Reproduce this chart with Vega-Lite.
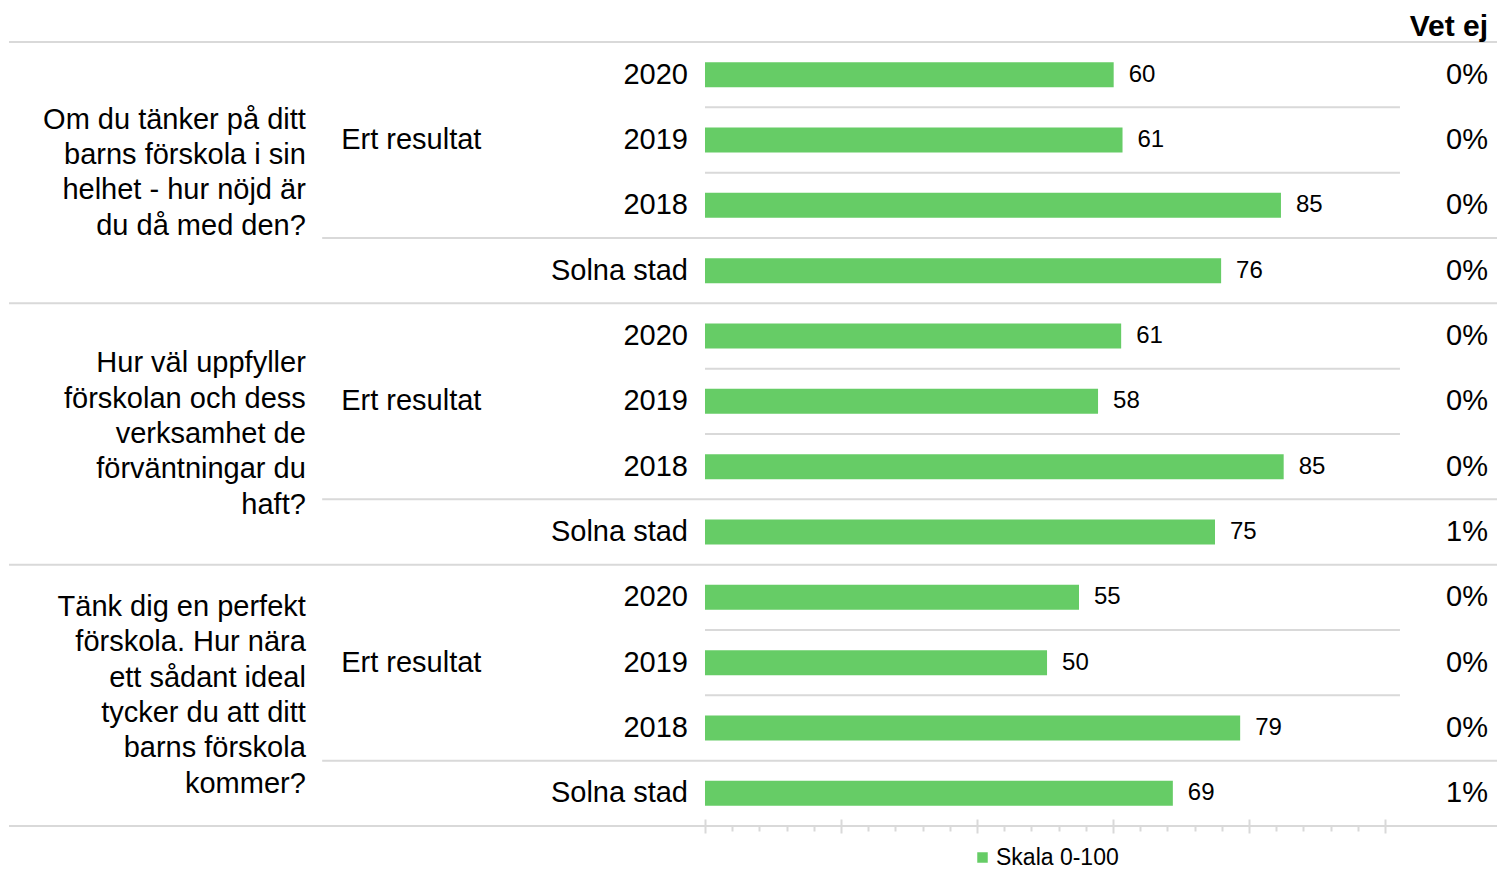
{
  "$schema": "https://vega.github.io/schema/vega-lite/v6.json",
  "autosize": "none",
  "width": 1497,
  "height": 784,
  "padding": {"top": 42, "bottom": 43, "left": 0, "right": 0},
  "background": "white",
  "config": {"view": {"stroke": null}, "font": "Liberation Sans"},
  "data": {"values": [
    {"key": "1-2020", "question": "Om du tänker på ditt\nbarns förskola i sin\nhelhet - hur nöjd är\ndu då med den?", "group": "Ert resultat", "label": "2020", "value": 60.1, "vetej": 0},
    {"key": "1-2019", "question": "Om du tänker på ditt\nbarns förskola i sin\nhelhet - hur nöjd är\ndu då med den?", "group": "Ert resultat", "label": "2019", "value": 61.4, "vetej": 0},
    {"key": "1-2018", "question": "Om du tänker på ditt\nbarns förskola i sin\nhelhet - hur nöjd är\ndu då med den?", "group": "Ert resultat", "label": "2018", "value": 84.7, "vetej": 0},
    {"key": "1-Solna", "question": "Om du tänker på ditt\nbarns förskola i sin\nhelhet - hur nöjd är\ndu då med den?", "group": "Solna stad", "label": "Solna stad", "value": 75.9, "vetej": 0},
    {"key": "2-2020", "question": "Hur väl uppfyller\nförskolan och dess\nverksamhet de\nförväntningar du\nhaft?", "group": "Ert resultat", "label": "2020", "value": 61.2, "vetej": 0},
    {"key": "2-2019", "question": "Hur väl uppfyller\nförskolan och dess\nverksamhet de\nförväntningar du\nhaft?", "group": "Ert resultat", "label": "2019", "value": 57.8, "vetej": 0},
    {"key": "2-2018", "question": "Hur väl uppfyller\nförskolan och dess\nverksamhet de\nförväntningar du\nhaft?", "group": "Ert resultat", "label": "2018", "value": 85.1, "vetej": 0},
    {"key": "2-Solna", "question": "Hur väl uppfyller\nförskolan och dess\nverksamhet de\nförväntningar du\nhaft?", "group": "Solna stad", "label": "Solna stad", "value": 75.0, "vetej": 0.01},
    {"key": "3-2020", "question": "Tänk dig en perfekt\nförskola. Hur nära\nett sådant ideal\ntycker du att ditt\nbarns förskola\nkommer?", "group": "Ert resultat", "label": "2020", "value": 55.0, "vetej": 0},
    {"key": "3-2019", "question": "Tänk dig en perfekt\nförskola. Hur nära\nett sådant ideal\ntycker du att ditt\nbarns förskola\nkommer?", "group": "Ert resultat", "label": "2019", "value": 50.3, "vetej": 0},
    {"key": "3-2018", "question": "Tänk dig en perfekt\nförskola. Hur nära\nett sådant ideal\ntycker du att ditt\nbarns förskola\nkommer?", "group": "Ert resultat", "label": "2018", "value": 78.7, "vetej": 0},
    {"key": "3-Solna", "question": "Tänk dig en perfekt\nförskola. Hur nära\nett sådant ideal\ntycker du att ditt\nbarns förskola\nkommer?", "group": "Solna stad", "label": "Solna stad", "value": 68.8, "vetej": 0.01}
  ]},
  "resolve": {"axis": {"x": "independent"}},
  "encoding": {
    "y": {"field": "key", "type": "nominal", "sort": null, "scale": {"domain": ["1-2020", "1-2019", "1-2018", "1-Solna", "2-2020", "2-2019", "2-2018", "2-Solna", "3-2020", "3-2019", "3-2018", "3-Solna"], "paddingInner": 0, "paddingOuter": 0}, "axis": null}
  },
  "layer": [
    {
      "transform": [{"filter": "datum.key == '1-2020'"}],
      "mark": {"type": "rule", "color": "#d9d9d9", "strokeWidth": 2},
      "encoding": {
        "x": {"datum": -102.35, "type": "quantitative", "scale": {"domain": [-103.676, 116.47], "nice": false, "zero": false}, "axis": null},
        "x2": {"datum": 116.47},
        "y": {"field": "key", "type": "nominal", "sort": null, "bandPosition": 0}
      }
    },
    {
      "transform": [{"filter": "datum.label == '2020' || datum.label == '2019'"}],
      "mark": {"type": "rule", "color": "#d9d9d9", "strokeWidth": 2},
      "encoding": {
        "x": {"datum": 0, "type": "quantitative", "axis": null},
        "x2": {"datum": 102.2},
        "y": {"field": "key", "type": "nominal", "sort": null, "bandPosition": 1}
      }
    },
    {
      "transform": [{"filter": "datum.label == '2018'"}],
      "mark": {"type": "rule", "color": "#d9d9d9", "strokeWidth": 2},
      "encoding": {
        "x": {"datum": -56.3, "type": "quantitative", "axis": null},
        "x2": {"datum": 116.47},
        "y": {"field": "key", "type": "nominal", "sort": null, "bandPosition": 1}
      }
    },
    {
      "transform": [{"filter": "datum.label == 'Solna stad'"}],
      "mark": {"type": "rule", "color": "#d9d9d9", "strokeWidth": 2},
      "encoding": {
        "x": {"datum": -102.35, "type": "quantitative", "axis": null},
        "x2": {"datum": 116.47},
        "y": {"field": "key", "type": "nominal", "sort": null, "bandPosition": 1}
      }
    },
    {
      "mark": {"type": "bar", "size": 25},
      "encoding": {
        "x": {"field": "value", "type": "quantitative", "axis": {"orient": "bottom", "values": [0, 20, 40, 60, 80, 100], "labels": false, "domain": false, "grid": false, "ticks": true, "tickSize": 14, "tickColor": "#d9d9d9", "tickWidth": 2, "offset": -7, "title": null}},
        "color": {"datum": "Skala 0-100", "scale": {"range": ["#66CC66"]}, "legend": {"orient": "none", "legendX": 971, "legendY": 804, "title": null, "symbolType": "square", "symbolSize": 110, "symbolStrokeWidth": 0, "labelFontSize": 23, "labelFont": "Liberation Sans", "labelColor": "#000000", "padding": 0, "labelOffset": 2, "labelLimit": 300}}
      }
    },
    {
      "mark": {"type": "text", "align": "left", "baseline": "middle", "dx": 15, "fontSize": 24, "font": "Liberation Sans", "color": "#000000"},
      "encoding": {
        "x": {"field": "value", "type": "quantitative", "axis": {"orient": "bottom", "values": [4, 8, 12, 16, 24, 28, 32, 36, 44, 48, 52, 56, 64, 68, 72, 76, 84, 88, 92, 96], "labels": false, "domain": false, "grid": false, "ticks": true, "tickSize": 5, "tickColor": "#d9d9d9", "tickWidth": 2, "offset": 0, "title": null}},
        "text": {"field": "value", "type": "quantitative", "format": ".0f"}
      }
    },
    {
      "mark": {"type": "text", "align": "right", "baseline": "middle", "dx": -17, "fontSize": 29, "font": "Liberation Sans", "color": "#000000"},
      "encoding": {
        "x": {"datum": 0, "type": "quantitative", "axis": null},
        "text": {"field": "label", "type": "nominal"}
      }
    },
    {
      "transform": [{"filter": "datum.label == '2019'"}],
      "mark": {"type": "text", "align": "left", "baseline": "middle", "fontSize": 29, "font": "Liberation Sans", "color": "#000000"},
      "encoding": {
        "x": {"datum": -53.5, "type": "quantitative", "axis": null},
        "text": {"field": "group", "type": "nominal"}
      }
    },
    {
      "transform": [{"filter": "datum.key == '1-2019'"}],
      "mark": {"type": "text", "align": "right", "baseline": "middle", "fontSize": 29, "lineHeight": 35.3, "lineBreak": "\n", "font": "Liberation Sans", "color": "#000000"},
      "encoding": {
        "x": {"datum": -58.7, "type": "quantitative", "axis": null},
        "y": {"field": "key", "type": "nominal", "sort": null, "bandPosition": 0.19},
        "text": {"field": "question", "type": "nominal"}
      }
    },
    {
      "transform": [{"filter": "datum.key == '2-2020'"}],
      "mark": {"type": "text", "align": "right", "baseline": "middle", "fontSize": 29, "lineHeight": 35.3, "lineBreak": "\n", "font": "Liberation Sans", "color": "#000000"},
      "encoding": {
        "x": {"datum": -58.7, "type": "quantitative", "axis": null},
        "y": {"field": "key", "type": "nominal", "sort": null, "bandPosition": 0.92},
        "text": {"field": "question", "type": "nominal"}
      }
    },
    {
      "transform": [{"filter": "datum.key == '3-2020'"}],
      "mark": {"type": "text", "align": "right", "baseline": "middle", "fontSize": 29, "lineHeight": 35.3, "lineBreak": "\n", "font": "Liberation Sans", "color": "#000000"},
      "encoding": {
        "x": {"datum": -58.7, "type": "quantitative", "axis": null},
        "y": {"field": "key", "type": "nominal", "sort": null, "bandPosition": 0.65},
        "text": {"field": "question", "type": "nominal"}
      }
    },
    {
      "mark": {"type": "text", "align": "right", "baseline": "middle", "fontSize": 29, "font": "Liberation Sans", "color": "#000000"},
      "encoding": {
        "x": {"datum": 115.15, "type": "quantitative", "axis": null},
        "text": {"field": "vetej", "type": "quantitative", "format": ".0%"}
      }
    },
    {
      "transform": [{"filter": "datum.key == '1-2020'"}],
      "mark": {"type": "text", "align": "right", "baseline": "alphabetic", "dy": -6.5, "fontSize": 30, "fontWeight": "bold", "font": "Liberation Sans", "color": "#000000", "text": "Vet ej"},
      "encoding": {
        "x": {"datum": 115.15, "type": "quantitative", "axis": null},
        "y": {"field": "key", "type": "nominal", "sort": null, "bandPosition": 0}
      }
    }
  ]
}
